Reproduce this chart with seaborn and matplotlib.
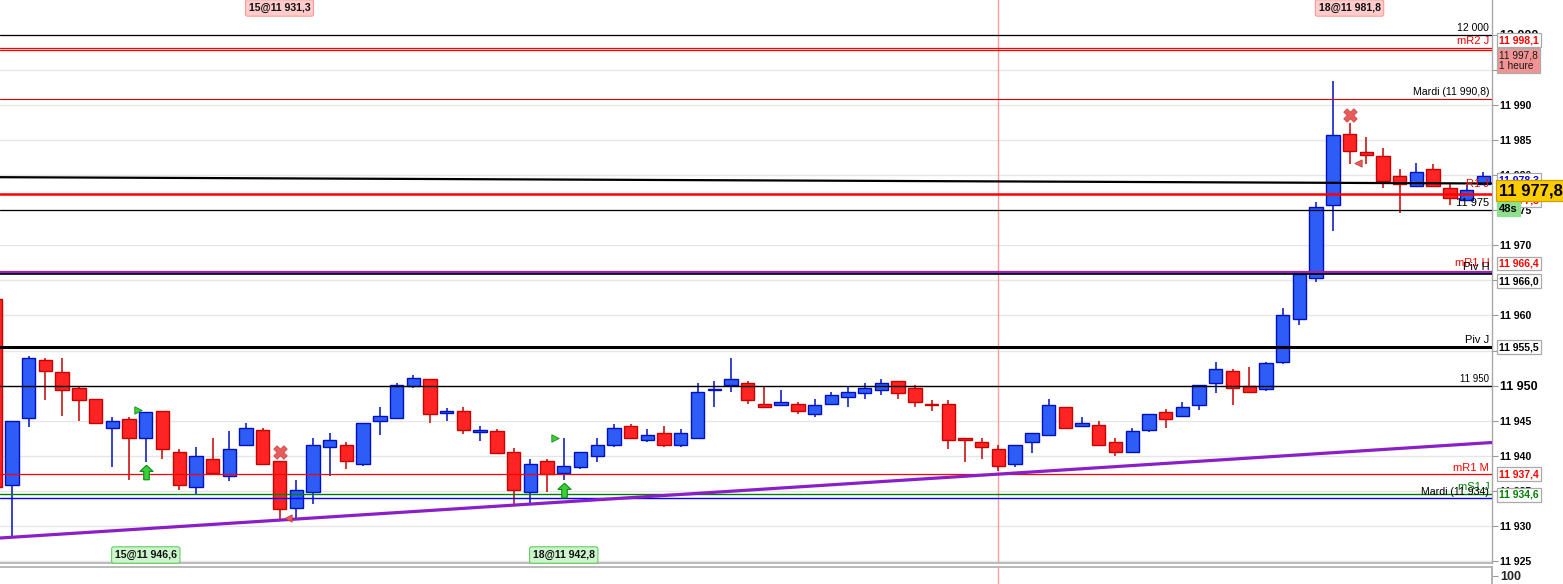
import numpy as np
import matplotlib
matplotlib.use("Agg")
import matplotlib.pyplot as plt
import seaborn as sns
from matplotlib.transforms import blended_transform_factory

# ---------------- data ----------------
opens = [11962.3, 11935.9, 11945.4, 11953.7, 11952.0, 11949.7, 11948.1, 11944.0, 11945.2, 11942.6,
         11946.4, 11940.6, 11935.6, 11939.5, 11937.2, 11941.5, 11943.7, 11939.2, 11932.6, 11934.9,
         11941.2, 11941.6, 11938.9, 11945.0, 11945.4, 11949.9, 11951.0, 11946.15, 11946.4, 11943.4,
         11943.5, 11940.6, 11934.9, 11939.2, 11937.6, 11938.4, 11940.0, 11941.5, 11944.2, 11942.2,
         11943.2, 11941.5, 11942.6, 11949.35, 11950.1, 11950.4, 11947.4, 11947.2, 11947.4, 11946.0,
         11947.4, 11948.4, 11949.0, 11949.4, 11950.7, 11949.7, 11947.4, 11947.4, 11942.5, 11942.0,
         11941.0, 11938.9, 11942.0, 11943.0, 11947.0, 11944.2, 11944.4, 11942.0, 11940.6, 11943.7,
         11946.2, 11945.7, 11947.2, 11950.4, 11952.1, 11950.0, 11949.5, 11953.4, 11959.5, 11965.4,
         11975.8, 11985.9, 11983.3, 11982.7, 11979.9, 11978.4, 11980.9, 11978.1, 11976.4, 11978.7]
highs = [11962.3, 11945.0, 11954.2, 11954.0, 11954.0, 11950.0, 11948.1, 11945.5, 11945.5, 11946.2,
         11946.4, 11941.0, 11941.2, 11942.5, 11943.5, 11944.7, 11944.0, 11939.2, 11936.5, 11942.5,
         11943.2, 11942.0, 11944.7, 11947.0, 11950.4, 11951.5, 11951.0, 11946.8, 11947.0, 11944.2,
         11943.8, 11941.1, 11939.5, 11939.6, 11942.5, 11940.6, 11942.5, 11944.5, 11944.5, 11943.8,
         11944.2, 11943.8, 11950.4, 11950.7, 11954.0, 11950.7, 11949.8, 11949.4, 11947.7, 11948.1,
         11949.1, 11949.8, 11950.4, 11951.0, 11950.7, 11950.1, 11948.0, 11948.0, 11942.6, 11942.5,
         11941.5, 11941.5, 11943.2, 11948.1, 11947.0, 11945.5, 11945.0, 11942.5, 11944.0, 11946.0,
         11946.7, 11947.7, 11950.1, 11953.4, 11952.4, 11952.7, 11953.4, 11961.1, 11965.9, 11976.1,
         11993.4, 11987.4, 11985.4, 11983.9, 11980.9, 11981.7, 11981.6, 11978.7, 11978.6, 11980.4]
lows = [11935.6, 11928.4, 11944.1, 11948.0, 11945.7, 11945.0, 11944.7, 11938.4, 11936.5, 11939.1,
        11939.6, 11935.2, 11934.6, 11937.4, 11936.4, 11941.5, 11938.9, 11930.8, 11931.2, 11933.2,
        11937.2, 11938.2, 11938.6, 11943.0, 11945.4, 11949.7, 11944.7, 11945.0, 11943.1, 11942.1,
        11940.4, 11933.1, 11933.0, 11934.8, 11936.5, 11938.1, 11939.1, 11941.2, 11942.5, 11942.0,
        11941.2, 11941.2, 11942.6, 11947.0, 11949.1, 11947.4, 11947.0, 11947.2, 11946.0, 11945.5,
        11947.4, 11947.0, 11948.1, 11948.7, 11948.1, 11947.0, 11946.4, 11941.0, 11939.1, 11939.6,
        11937.9, 11938.4, 11940.4, 11943.0, 11944.0, 11944.2, 11941.5, 11940.0, 11940.4, 11943.4,
        11944.0, 11945.5, 11946.6, 11949.0, 11947.2, 11949.0, 11949.3, 11953.1, 11958.7, 11964.8,
        11972.1, 11981.6, 11981.6, 11978.1, 11974.6, 11978.4, 11978.4, 11975.7, 11976.4, 11978.7]
closes = [11935.6, 11945.0, 11954.0, 11952.1, 11949.4, 11948.0, 11944.7, 11945.0, 11942.5, 11946.2,
          11941.0, 11935.9, 11940.0, 11937.6, 11941.0, 11944.0, 11938.9, 11932.5, 11935.2, 11941.6,
          11942.2, 11939.2, 11944.7, 11945.7, 11950.1, 11951.1, 11946.0, 11946.25, 11943.7, 11943.7,
          11940.4, 11935.1, 11938.9, 11937.4, 11938.6, 11940.6, 11941.6, 11944.0, 11942.5, 11943.0,
          11941.6, 11943.2, 11949.1, 11949.45, 11951.0, 11948.0, 11947.0, 11947.7, 11946.4, 11947.2,
          11948.7, 11949.1, 11949.7, 11950.4, 11949.0, 11947.7, 11947.2, 11942.2, 11942.2, 11941.2,
          11938.6, 11941.5, 11943.2, 11947.2, 11944.0, 11944.7, 11941.6, 11940.5, 11943.5, 11946.0,
          11945.2, 11947.0, 11950.1, 11952.4, 11949.7, 11949.1, 11953.2, 11960.0, 11965.9, 11975.5,
          11985.7, 11983.4, 11982.9, 11979.1, 11978.7, 11980.4, 11978.4, 11976.7, 11977.9, 11979.9]

level_labels = ["12 000", "mR2 J", None, "Mardi (11 990,8)", "R1 J", "11 975",
                "mR1 H", None, "Piv H", "Piv J", "11 950", "mR1 M", "mS1 J", "Mardi (11 934)"]
level_values = [12000.0, 11998.1, 11997.8, 11990.8, 11977.3, 11975.0,
                11966.4, 11966.15, 11965.95, 11955.5, 11950.0, 11937.4, 11934.6, 11934.0]

purple_trend_idx = [0.28, 89.5]
purple_trend_price = [11928.3, 11941.9]
black_trend_idx = [0.28, 89.5]
black_trend_price = [11979.7, 11978.8]

marker_line_idx = 60.0

buy_arrows_idx = [9, 34]
buy_arrows_price = [11937.7, 11935.1]
entry_flags_idx = [8.55, 33.5]
entry_flags_price = [11946.5, 11942.6]
cross_idx = [17.0, 81.0]
cross_price = [11940.6, 11988.6]
exit_flags_idx = [17.5, 81.5]
exit_flags_price = [11931.2, 11981.7]

top_tags = ["15@11 931,3", "18@11 981,8"]
top_tags_idx = [17, 81]
bottom_tags = ["15@11 946,6", "18@11 942,8"]
bottom_tags_idx = [9, 34]

axis_ticks = list(range(11925, 12001, 5))

last_price = 11977.8
side_boxes = ["11 998,1", "11 997,8\n1 heure", "11 978,3", "11 977,3", "11 977,8", "48s",
              "11 966,4", "11 966,0", "11 955,5", "11 937,4", "11 934,6"]
side_box_values = [11998.1, 11997.8, 11978.3, 11977.3, 11977.8, 11977.8,
                   11966.4, 11966.0, 11955.5, 11937.4, 11934.6]

# ---------------- style ----------------
sns.set_theme(style="white")
plt.rcParams['font.family'] = ['Liberation Sans', 'DejaVu Sans']

W, H = 1563, 584
AX_RIGHT = 1492
PLOT_BOTTOM = 563
fig = plt.figure(figsize=(W / 100, H / 100), dpi=100)
fig.patch.set_facecolor('white')
ax = fig.add_axes([0, (H - PLOT_BOTTOM) / H, AX_RIGHT / W, PLOT_BOTTOM / H])
ax.set_facecolor('white')
ax.set_xlim(0.281, 89.52)
ax.set_ylim(11924.74, 12004.94)

for v in axis_ticks:
    ax.axhline(v, color='#e6e6e6', lw=1.0, zorder=0)

ax.axvline(marker_line_idx, color='#ff9c9c', lw=1.0, zorder=1)

# candles
o = np.array(opens); h = np.array(highs); l = np.array(lows); c = np.array(closes)
idx = np.arange(len(o))
up = c >= o
dn = ~up
BLUE_F, BLUE_E = '#2d5cf7', '#0010c0'
RED_F, RED_E = '#ff2424', '#c80000'
ax.vlines(idx[up], l[up], h[up], color=BLUE_E, lw=1.1, zorder=3)
ax.vlines(idx[dn], l[dn], h[dn], color=RED_E, lw=1.1, zorder=3)
body_h = np.maximum(np.abs(c - o), 0.18)
body_b = np.minimum(o, c)
ax.bar(idx[up], body_h[up], bottom=body_b[up], width=0.8, color=BLUE_F,
       edgecolor=BLUE_E, linewidth=1.0, zorder=4)
ax.bar(idx[dn], body_h[dn], bottom=body_b[dn], width=0.8, color=RED_F,
       edgecolor=RED_E, linewidth=1.0, zorder=4)

# horizontal levels
level_styles = [('#000000', 0.9), ('#ff0000', 0.9), ('#ff0000', 0.9), ('#e00000', 0.8),
                ('#ff0000', 1.8), ('#000000', 0.9), ('#ff0000', 0.9), ('#8a2ac8', 2.0),
                ('#000000', 1.2), ('#000000', 2.2), ('#000000', 1.0), ('#ff0000', 0.9),
                ('#008000', 1.0), ('#0000ff', 1.0)]
for v, (col, lw) in zip(level_values, level_styles):
    ax.axhline(v, color=col, lw=lw, zorder=5)

sns.lineplot(x=black_trend_idx, y=black_trend_price, ax=ax, color='#000000', lw=1.6, zorder=5)
sns.lineplot(x=purple_trend_idx, y=purple_trend_price, ax=ax, color='#8a1fc8', lw=2.3, zorder=5)

# level labels inside plot
label_styles = {
    "12 000": ('#000000', 7.5, 1.5),
    "mR2 J": ('#ff0000', 8, 2.5),
    "Mardi (11 990,8)": ('#000000', 7.6, 2.0),
    "R1 J": ('#ff0000', 8, 5.0),
    "11 975": ('#000000', 8, 2.5),
    "mR1 H": ('#ff0000', 8, 2.5),
    "Piv H": ('#000000', 8, 1.5),
    "Piv J": ('#000000', 8, 2.5),
    "11 950": ('#000000', 7, 2.0),
    "mR1 M": ('#ff0000', 8, 1.5),
    "mS1 J": ('#008000', 8, 1.5),
    "Mardi (11 934)": ('#000000', 7.6, 0.5),
}
for lab, v in zip(level_labels, level_values):
    if lab is None:
        continue
    col, fs, dy = label_styles[lab]
    ax.annotate(lab, xy=(89.35, v), xytext=(0, dy * 0.72), textcoords='offset points',
                ha='right', va='bottom', color=col, fontsize=fs, zorder=6)

# signal markers
arrow_verts = [(0, 1), (0.9, 0.15), (0.38, 0.15), (0.38, -1), (-0.38, -1), (-0.38, 0.15), (-0.9, 0.15), (0, 1)]
ax.scatter(buy_arrows_idx, buy_arrows_price, marker=arrow_verts, s=110, color='#3ccf3c',
           edgecolor='#0e8a0e', linewidth=0.8, zorder=7)
ax.scatter(entry_flags_idx, entry_flags_price, marker='>', s=28, color='#3ccf3c',
           edgecolor='#0e8a0e', linewidth=0.6, zorder=7)
ax.scatter(cross_idx, cross_price, marker='X', s=95, color='#e85c5c',
           edgecolor='#c83c3c', linewidth=0.5, zorder=7)
ax.scatter(exit_flags_idx, exit_flags_price, marker='<', s=28, color='#e85c5c',
           edgecolor='#c03030', linewidth=0.5, zorder=7)

# top / bottom trade tags
xt = blended_transform_factory(ax.transData, ax.transAxes)
for t, i in zip(top_tags, top_tags_idx):
    ax.text(i, 1 - 8 / PLOT_BOTTOM, t, transform=xt, ha='center', va='center', fontsize=7.6,
            fontweight='bold', color='#111111', zorder=8,
            bbox=dict(boxstyle='round,pad=0.3,rounding_size=0.2', fc='#ffcccc', ec='#ff9a9a', lw=0.8))
for t, i in zip(bottom_tags, bottom_tags_idx):
    ax.text(i, 1 - 555 / PLOT_BOTTOM, t, transform=xt, ha='center', va='center', fontsize=7.6,
            fontweight='bold', color='#111111', zorder=8,
            bbox=dict(boxstyle='round,pad=0.3,rounding_size=0.2', fc='#ccf5cc', ec='#66cc66', lw=0.8))

# axes / ticks
for s in ['top', 'left']:
    ax.spines[s].set_visible(False)
ax.spines['right'].set_color('#a8a8a8')
ax.spines['right'].set_linewidth(1.0)
ax.spines['bottom'].set_color('#b0b0b0')
ax.spines['bottom'].set_linewidth(1.2)
ax.set_xticks([])
ax.yaxis.tick_right()
ax.set_yticks(axis_ticks)
ax.set_yticklabels([f"{v:,}".replace(",", " ") for v in axis_ticks])
ax.tick_params(axis='y', which='major', right=True, length=4, width=0.8, color='#999999',
               pad=2, labelcolor='#000000')
for lbl, v in zip(ax.get_yticklabels(), axis_ticks):
    lbl.set_fontweight('bold')
    lbl.set_fontsize(9 if v % 50 == 0 else 7.6)

# side price boxes
yt = blended_transform_factory(ax.transAxes, ax.transData)
box_styles = [
    # text color, face, edge, size, dy_px, weight
    ('#ff0000', '#ffffff', '#aaaaaa', 7.5, -8.0, 'bold'),
    ('#1a1a1a', '#f39494', '#aaaaaa', 7.3, 10.5, 'normal'),
    ('#0000ff', '#ffffff', '#aaaaaa', 7.5, -7.0, 'bold'),
    ('#ff0000', '#ffffff', '#aaaaaa', 7.5, 6.0, 'bold'),
    ('#000000', '#ffcc00', '#c8a000', 12, 0.0, 'bold'),
    ('#000000', '#8ee08e', '#8ee08e', 8, 18.0, 'bold'),
    ('#ff0000', '#ffffff', '#aaaaaa', 7.5, -7.0, 'bold'),
    ('#000000', '#ffffff', '#aaaaaa', 7.5, 8.0, 'bold'),
    ('#000000', '#ffffff', '#aaaaaa', 7.5, 0.0, 'bold'),
    ('#ff0000', '#ffffff', '#aaaaaa', 7.5, 0.0, 'bold'),
    ('#008000', '#ffffff', '#aaaaaa', 7.5, 1.0, 'bold'),
]
for k, (t, v, st) in enumerate(zip(side_boxes, side_box_values, box_styles)):
    tc, fc, ec, fs, dy, fw = st
    ax.annotate(t, xy=(1499 / AX_RIGHT, v), xycoords=yt, xytext=(0, -dy * 0.72),
                textcoords='offset points', ha='left', va='center', color=tc, fontsize=fs,
                fontweight=fw, annotation_clip=False, zorder=10 + k, linespacing=1.15,
                bbox=dict(boxstyle='square,pad=0.18', fc=fc, ec=ec, lw=0.9))

# bottom sub-panel
ax2 = fig.add_axes([0, 0, AX_RIGHT / W, (H - PLOT_BOTTOM - 4) / H])
ax2.set_facecolor('white')
ax2.set_xlim(ax.get_xlim())
ax2.set_ylim(0, 200)
ax2.axvline(marker_line_idx, color='#ff9c9c', lw=1.0)
for s in ['bottom', 'left']:
    ax2.spines[s].set_visible(False)
ax2.spines['top'].set_color('#b0b0b0')
ax2.spines['right'].set_color('#a8a8a8')
ax2.set_xticks([])
ax2.yaxis.tick_right()
ax2.set_yticks([100])
ax2.set_yticklabels(["100"])
ax2.tick_params(axis='y', right=True, length=4, width=0.8, color='#999999', pad=2)
for lbl in ax2.get_yticklabels():
    lbl.set_fontweight('bold')
    lbl.set_fontsize(9)

fig.savefig("out.png", dpi=100, facecolor='white')
